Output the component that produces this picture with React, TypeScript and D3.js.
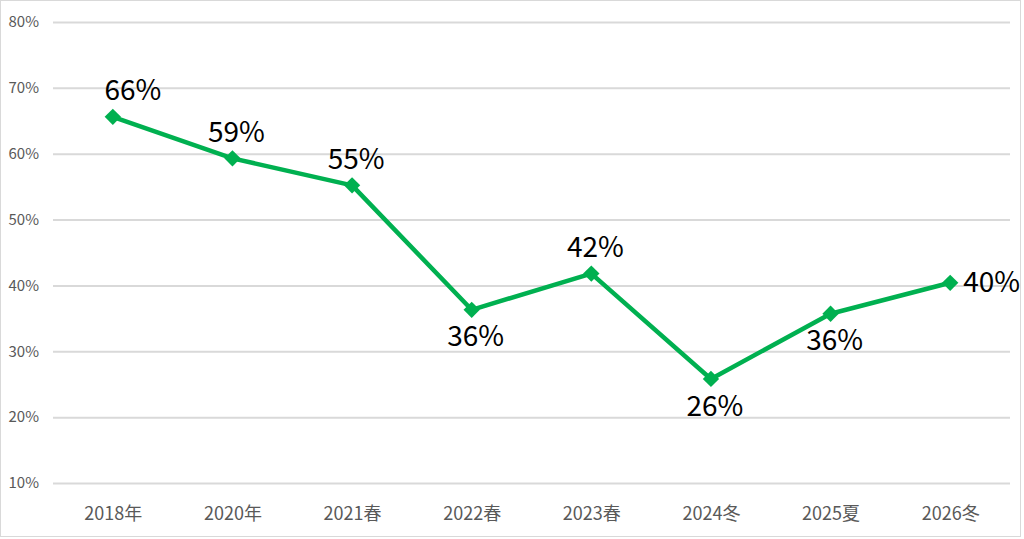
import * as d3 from 'd3';
import {useEffect, useRef} from 'react';

const categories = ['2018年', '2020年', '2021春', '2022春', '2023春', '2024冬', '2025夏', '2026冬'];
const values = [65.6, 59.3, 55.2, 36.3, 41.8, 25.8, 35.7, 40.4];
const labels = ['66%', '59%', '55%', '36%', '42%', '26%', '36%', '40%'];
const labelPlacement = ['above-right', 'above', 'above', 'below', 'above', 'below', 'below', 'right'];
const yTicks = [10, 20, 30, 40, 50, 60, 70, 80];

const FONT = '"Noto Sans CJK JP", "Noto Sans", sans-serif';

export default function App() {
    const ref = useRef<SVGSVGElement>(null);
    const width = 1024;
    const height = 539;
    const margins = {top: 22, right: 14, bottom: 56, left: 53};

    useEffect(() => {
        const svg = d3.select(ref.current);
        svg.selectAll('*').remove();

        svg.append('rect')
            .attr('x', 0.5)
            .attr('y', 0.5)
            .attr('width', 1020)
            .attr('height', 536)
            .attr('fill', '#fff')
            .attr('stroke', '#d9d9d9');

        const xScale = d3
            .scalePoint<string>()
            .domain(categories)
            .range([margins.left, width - margins.right])
            .padding(0.5);

        const yScale = d3
            .scaleLinear()
            .domain([10, 80])
            .range([height - margins.bottom, margins.top]);

        const yAxis = d3
            .axisLeft(yScale)
            .tickValues(yTicks)
            .tickSize(-(width - margins.left - margins.right))
            .tickPadding(14)
            .tickFormat((d) => `${d}%`);

        const gy = svg.append('g').attr('transform', `translate(${margins.left},0)`).call(yAxis);
        gy.select('.domain').remove();
        gy.selectAll('.tick line').attr('stroke', '#d9d9d9').attr('stroke-width', 2);
        gy.selectAll('.tick text')
            .attr('fill', '#595959')
            .style('font-family', FONT)
            .style('font-size', '15px');

        const xAxis = d3.axisBottom(xScale).tickSize(0).tickPadding(24);
        const gx = svg
            .append('g')
            .attr('transform', `translate(0,${height - margins.bottom})`)
            .call(xAxis);
        gx.select('.domain').remove();
        gx.selectAll('.tick text')
            .attr('fill', '#595959')
            .style('font-family', FONT)
            .style('font-size', '18px');

        const line = d3
            .line<number>()
            .x((_, i) => xScale(categories[i])!)
            .y((d) => yScale(d));

        svg.append('path')
            .datum(values)
            .attr('d', line)
            .attr('fill', 'none')
            .attr('stroke', '#00b050')
            .attr('stroke-width', 4.5)
            .attr('stroke-linejoin', 'round');

        svg.selectAll('.marker')
            .data(values)
            .join('path')
            .attr('class', 'marker')
            .attr('d', d3.symbol(d3.symbolDiamond2, 170)())
            .attr('transform', (d, i) => `translate(${xScale(categories[i])},${yScale(d)})`)
            .attr('fill', '#00b050');

        svg.selectAll('.label')
            .data(values)
            .join('text')
            .attr('class', 'label')
            .attr('x', (_, i) => {
                const x = xScale(categories[i])!;
                if (labelPlacement[i] === 'right') return x + 13;
                if (labelPlacement[i] === 'above-right') return x + 20;
                return x + 4;
            })
            .attr('y', (d, i) => {
                const y = yScale(d);
                if (labelPlacement[i].startsWith('above')) return y - 24;
                if (labelPlacement[i] === 'below') return y + 29;
                return y + 2;
            })
            .attr('text-anchor', (_, i) => (labelPlacement[i] === 'right' ? 'start' : 'middle'))
            .attr('dominant-baseline', 'middle')
            .attr('fill', '#000')
            .style('font-family', FONT)
            .style('font-size', '28px')
            .text((_, i) => labels[i]);
    }, []);

    return (
        <svg
            ref={ref}
            width={width}
            height={height}
            style={{position: 'absolute', left: 0, top: 0, background: '#fff'}}
        ></svg>
    );
}
